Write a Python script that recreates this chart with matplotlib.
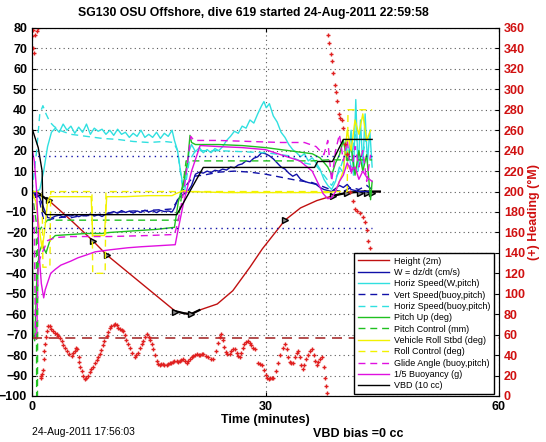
import matplotlib.pyplot as plt
import numpy as np

plt.rcParams['font.family'] = ['Liberation Sans', 'DejaVu Sans']

title = 'SG130 OSU Offshore, dive 619 started 24-Aug-2011 22:59:58'
stamp = '24-Aug-2011 17:56:03'
vbd_note = 'VBD bias =0 cc'

# height (2m units)
ht_t = [0, 0.5, 1.0, 2.2, 5, 7.8, 9.6, 12, 16, 18.4, 19.5, 20.4, 21.5, 23.8, 25.8, 28.0, 29.6,
        32.5, 34.5, 36.6, 38.7, 40.5, 42.5, 44.7]
ht_y = [0, -0.5, -1.5, -4.5, -14, -24, -31, -38.5, -51, -58.5, -59.5, -60, -58, -55, -48.5, -37,
        -28, -14, -8, -4.4, -2, -0.6, 0, 0]
gc_windows = [(0, 2.2), (18.4, 21.5), (38.7, 44.7)]
gc_t = [0.8, 2.2, 7.8, 9.6, 18.4, 20.4, 32.5, 38.7, 40.5, 42.1, 43.0, 43.7]
gc_y = [-1, -4, -24, -31, -59, -60, -14, -2, -0.6, -0.5, -0.5, -0.5]

# W = dz/dt
w_t = [0, 0.5, 1.0, 1.5, 2.0, 2.5, 3, 3.5, 4, 4.5, 5, 5.5, 6, 6.5, 7, 7.5, 8, 8.5, 9, 9.5, 10,
       10.5, 11, 11.5, 12, 12.5, 13, 13.5, 14, 14.5, 15, 15.5, 16, 16.5, 17, 17.5, 18, 18.3, 18.7,
       19.2, 20, 20.5, 21, 21.5, 22, 22.5, 23, 23.5, 24, 24.5, 25, 25.5, 26, 26.5, 27, 27.5, 28,
       28.5, 29, 29.5, 30, 30.5, 31, 31.5, 32, 32.5, 33, 33.5, 34, 34.5, 35, 35.5, 36, 36.5, 37,
       37.5, 38, 38.5, 39, 39.5, 40, 40.5, 41, 41.5, 42, 42.5, 43, 43.5]
w_y = [0, -1, -3, -8, -12.7, -13, -12, -11.5, -12.5, -11.6, -12, -11.2, -12.3, -11.5, -11.8, -11,
       -12, -11.3, -12.2, -11, -10.4, -9.8, -10.6, -9.3, -10.2, -9.6, -10.5, -9.5, -10.2, -9.1, -10,
       -9.4, -10.3, -9.2, -9.8, -9.5, -10, -8, -4, -2, 0, 3, 8.5, 9.5, 9, 10, 9.3, 10.4, 10, 11,
       10.5, 12, 11.6, 13, 13.5, 15, 14.6, 16.3, 17, 19, 18.5, 17.5, 16, 14, 12, 11, 9, 7.5, 8.5, 6,
       5, 4.4, 4, 3.5, 2, 1, 0.5, 0, 1.5, 3, 2, 3.5, 1, 0.5, 0, 0, 0, 0]

# vertical speed (buoy, pitch)
vs_t = [0, 1, 1.5, 2, 3, 4, 5, 6, 7, 8, 9, 10, 11, 12, 13, 14, 15, 16, 17, 18, 18.6, 19.3, 20,
        20.8, 22, 24, 26, 28, 30, 32, 34, 36, 37, 38, 39, 40, 41, 42, 43, 43.7]
vs_y = [0, -5, -14, -14, -13, -12.5, -12.8, -12, -11.8, -11.5, -11, -10.5, -10.2, -9.8, -9.5,
        -9.5, -9.2, -9, -8.8, -8.5, -5, 0, 4, 7.5, 8, 9.5, 10, 9.5, 8.5, 7, 5.5, 4.4, 3, 1.5, 0.5,
        0, 2, 1, 3, 1]

# horizontal speed (W, pitch)
hs_t = [0, 0.5, 1.0, 1.5, 2.0, 2.5, 3, 3.5, 4, 4.5, 5, 5.5, 6, 6.5, 7, 7.5, 8, 8.5, 9, 9.5, 10,
        10.5, 11, 11.5, 12, 12.5, 13, 13.5, 14, 14.5, 15, 15.5, 16, 16.5, 17, 17.5, 18, 18.3, 18.7,
        19.0, 19.3, 19.5, 19.8, 20.2, 20.5, 21, 21.5, 22, 22.5, 23, 23.5, 24, 24.5, 25, 25.5, 26,
        26.5, 27, 27.5, 28, 28.5, 29, 29.5, 29.8, 30.1, 30.5, 31, 31.5, 32, 32.5, 33, 33.5, 34,
        34.5, 35, 35.5, 36, 36.5, 37, 37.5, 38, 38.5, 39, 39.5, 40, 40.3, 40.6, 41, 41.3, 41.6,
        41.9, 42.2, 42.5, 42.8, 43.1, 43.4, 43.7]
hs_y = [0, 0, 1, 10, 22, 29, 31, 29, 33, 30, 32, 28.5, 31.5, 29, 33, 28, 31, 29.5, 30.5, 28, 30,
        27.5, 30.5, 28, 29, 26.5, 28.5, 27, 30, 26.5, 28, 26.5, 29, 26, 28.5, 27, 30, 25, 20, 12,
        5, 2, 8, 20, 23, 19.5, 21.5, 19, 20.5, 19, 21, 20, 22, 25, 27, 29.5, 28.5, 32, 31, 35,
        33.5, 38, 42, 44, 41, 43, 37, 34, 29, 26.5, 23, 20.5, 19, 17, 18.5, 15, 16.5, 14, 11, 6,
        3, 1, 5, 12, 9, 25, 15, 30, 8, 45, 10, 35, 12, 38, 14, 30, 12]

# horizontal speed (buoy, pitch)
hb_t = [0, 0.6, 1.0, 1.4, 1.8, 2.3, 2.8, 3.5, 5, 7, 9, 11, 13, 15, 17, 18.2, 18.7, 19.3, 19.6,
        20.2, 21, 24, 27, 30, 33, 35, 36.5, 37.5, 38.5, 39.5, 40.5, 41, 41.5, 42, 42.5, 43, 43.5]
hb_y = [0, 20, 38, 42, 38, 34, 32, 30, 28, 27, 26, 25.5, 24.5, 24, 24.5, 24, 20, 3, 0, 15, 20, 20,
        19.5, 19, 17.5, 14, 12.7, 8, 3, 10, 22, 12, 30, 15, 18, 28, 25]

# pitch up (deg)
pu_t = [0, 0.15, 0.35, 0.6, 0.9, 1.3, 1.8, 2.3, 3, 5, 7, 9, 10, 12, 14, 16, 18.3, 18.8, 19.5,
        20.0, 20.3, 20.5, 21, 24, 27, 30, 33, 36, 37, 38, 38.5, 39, 39.5, 40, 40.5, 41, 41.5, 42,
        42.5, 43, 43.5, 43.7]
pu_y = [0, -70, -73, -45, -30, -26, -30, -24, -21.5, -21, -20.5, -20.5, -20, -19.5, -19, -18.5,
        -17.5, -5, 5, 15, 27.5, 24, 23, 23, 22.5, 21.5, 20, 18.5, 16.5, 12, 8, 14, 18, 25, 15, 22,
        8, 20, 10, 18, -4, 5]

# pitch control (mm)
pc_t = [0, 0.55, 0.6, 0.7, 0.75, 1.5, 2, 18.3, 18.8, 19.8, 20.3, 36, 38, 43.7]
pc_y = [0, -15, -105, -105, -20, -16, -14, -14, -14, 15, 15, 15, 15.5, 15.5]

# vehicle roll (deg)
vr_t = [0, 0.5, 1.0, 1.3, 1.6, 2.0, 2.3, 5, 7.6, 7.8, 9.3, 9.6, 12, 15, 18, 18.5, 19.5, 20, 25,
        30, 35, 38, 39, 40, 40.5, 41, 41.5, 42, 42.5, 43, 43.5]
vr_y = [0, -5, -20, -28, -20, -5, -2.5, -2.5, -2.5, -21.5, -21.5, -2.5, -2.5, -2, -2, -1, 0.5, 0,
        -0.5, -0.5, -0.5, -0.5, 0, 10, 30, 20, 35, 28, 38, 25, 30]

# roll control (deg)
rc_t = [0, 1.3, 1.4, 2.3, 2.4, 7.7, 7.8, 9.4, 9.5, 40.5, 40.6, 43.7]
rc_y = [0, 0, -37, -37, 0, 0, -40, -40, 0, 0, 40, 40]

# glide angle (buoy, pitch)
ga_t = [0, 0.3, 0.45, 0.6, 0.8, 1.3, 2, 3, 5, 10, 15, 18.3, 18.6, 19, 19.5, 20, 20.4, 20.8, 24,
        28, 32, 35, 36.5, 37.5, 38, 38.5, 39, 39.5, 40, 40.5, 41, 41.5, 42, 42.5, 43, 43.5]
ga_y = [0, -20, -72, -72, -35, -30, -24, -22.5, -22, -22, -21.5, -21, -17, -10, 0, 15, 27, 25, 25,
        24.5, 24, 24, 22, 18, 25, 5, 20, 28, 15, 25, 8, 22, 12, 20, 5, 18]

# 1/5 buoyancy (g)
bu_t = [0, 0.3, 0.6, 0.9, 1.2, 1.5, 1.7, 2.4, 3, 3.7, 5, 5.9, 7, 8.1, 10, 12.3, 14, 16.2, 18.4,
        18.7, 19.5, 20.5, 21.6, 24, 27, 30, 32.3, 34.4, 36, 37.4, 38, 38.5, 39, 39.5, 40, 40.5,
        41, 41.5, 42, 42.5, 43, 43.7]
bu_y = [21, 15, 0, -30, -45, -52, -48, -40, -38, -36, -34, -32.4, -31, -29.5, -28.5, -27.5,
        -27, -26.5, -26, -20, -5, 10, 22.5, 22, 21.5, 20.5, 17.6, 15, 10, -1, -3.5, -3, 0, 5, 8,
        14, 10, 12, 6, 10, 7, 5]

# VBD (10 cc)
vbd_t = [0, 0.8, 1.3, 1.4, 1.8, 5, 10, 18.6, 22.0, 30, 36.3, 36.7, 38.6, 40.0, 43.7]
vbd_y = [31, 21.5, 10, -9.5, -11.3, -11.3, -11.3, -11.3, 11.8, 11.8, 11.8, 14.7, 14.7, 25.5, 25.5]

# desired glide limits and target heading
glide_lim = 17.6
glide_end = 43.7
target_heading = 57

# heading (deg M)
hd_t = [0.05, 0.1, 0.13, 0.2, 0.4, 0.6, 0.8,
        1.16, 1.22, 1.3, 1.4, 1.5, 1.6, 1.7, 1.8, 1.95, 2.05, 2.3,
        2.5, 2.75, 3.0, 3.2, 3.4, 3.6, 3.8, 4.0, 4.2, 4.5, 4.8, 5.1,
        5.3, 5.5, 5.7, 5.8, 6.0, 6.1, 6.2, 6.4, 6.6, 6.8, 7.0, 7.2,
        7.4, 7.6, 7.8, 8.1, 8.3, 8.5, 8.7, 8.9, 9.1, 9.3, 9.6, 9.8, 10.0, 10.2, 10.5, 10.7, 10.9,
        11.1, 11.3, 11.5, 11.7, 11.9, 12.1, 12.3, 12.6, 12.9, 13.2, 13.4, 13.6, 13.9, 14.1, 14.3,
        14.5, 14.8, 15.0, 15.2, 15.4, 15.6, 15.8, 16.0, 16.2, 16.4, 16.6, 16.8, 17.0, 17.3, 17.5,
        17.7, 17.9, 18.1, 18.3, 18.6, 18.8, 19.0, 19.2, 19.4, 19.6, 19.9, 20.1, 20.3, 20.5, 20.7,
        20.9, 21.2, 21.4, 21.6, 21.8, 22.0, 22.3, 22.6, 23.0, 23.3, 23.6, 23.9, 24.1, 24.3, 24.5,
        24.7, 24.9, 25.1, 25.4, 25.6, 25.8, 26.1, 26.3, 26.5, 26.7, 26.9, 27.1, 27.3, 27.5, 27.8,
        28.0, 28.2, 28.4, 28.7, 29.0, 29.3, 29.6, 29.8, 30.0, 30.2, 30.4, 30.6, 30.8, 31.0, 31.3,
        31.6, 31.9, 32.2, 32.5, 32.7, 32.9, 33.1, 33.3, 33.5, 33.8, 34.0, 34.2, 34.4, 34.6, 34.8,
        35.0, 35.2, 35.4, 35.7, 36.0, 36.2, 36.4, 36.6, 36.8, 37.0, 37.3, 37.5, 37.6, 37.8, 37.9,
        38.0, 38.2, 38.4, 38.5, 38.7, 38.9, 39.0, 39.2, 39.4, 39.6, 39.8, 40.0, 40.2, 40.5,
        40.9, 41.2, 41.5, 41.8, 42.1, 42.5, 42.8, 43.0, 43.2, 43.4]
hd_y = [352, 358, 340, 336, 353, 357, 360,
        18, 20, 22, 25, 36, 44, 51, 58, 64, 68, 68,
        66, 64, 62, 61, 59, 57, 54, 50, 47, 44, 41, 39,
        42, 44, 47, 46, 38, 33, 28, 24, 20, 17, 18, 20,
        23, 26, 28, 32, 35, 38, 41, 45, 50, 54, 59, 63, 67, 68, 69, 70, 69,
        67, 66, 65, 64, 60, 55, 51, 47, 42, 38, 40, 42, 47, 51, 54,
        58, 61, 58, 55, 51, 46, 40, 34, 31, 30, 31, 31, 30, 30, 31,
        32, 32, 33, 34, 34, 33, 34, 35, 36, 34, 32, 34, 36, 38, 39,
        40, 41, 40, 40, 41, 41, 39, 38, 36, 36, 44, 52, 58, 61, 55,
        48, 43, 41, 41, 44, 46, 46, 42, 39, 38, 42, 47, 51, 53, 54,
        52, 50, 47, 46, 32, 31, 30, 25, 21, 18, 17, 18, 18, 18, 24,
        32, 40, 47, 51, 46, 38, 33, 32, 32, 38, 42, 44, 38, 30, 26,
        30, 36, 40, 44, 46, 40, 34, 30, 33, 36, 38, 28, 18, 10, 3,
        353, 345, 335, 328, 316, 304, 297, 289, 276, 272, 270, 262, 247, 237,
        200, 191, 183, 181, 179, 175, 170, 162, 152, 145]

c_height = '#c01010'
c_w = '#1010a8'
c_cyan = '#30e0e0'
c_green = '#20c020'
c_yellow = '#f2f200'
c_mag = '#e010e0'
c_red = '#d01010'
dash = (5, 3.5)

fig = plt.figure(figsize=(5.46, 4.42), dpi=100)
ax = fig.add_axes([32 / 546, 46 / 442, 467 / 546, 368 / 442])

ax.plot(ht_t, ht_y, color=c_height, lw=1.0, label='Height (2m)')
ht_t_a = np.array(ht_t)
ht_y_a = np.array(ht_y)
for t0, t1 in gc_windows:
    m = (ht_t_a >= t0) & (ht_t_a <= t1)
    ax.plot(ht_t_a[m], ht_y_a[m], color='k', lw=1.6)
ax.plot(gc_t, gc_y, ls='none', marker='>', ms=5, mfc='0.55', mec='k', mew=1.0)
ax.plot(w_t, w_y, color=c_w, lw=1.0, label='W = dz/dt (cm/s)')
ax.plot(hs_t, hs_y, color=c_cyan, lw=1.0, label='Horiz Speed(W,pitch)')
ax.plot(vs_t, vs_y, color=c_w, lw=1.0, dashes=dash, label='Vert Speed(buoy,pitch)')
ax.plot(hb_t, hb_y, color=c_cyan, lw=1.0, dashes=dash, label='Horiz Speed(buoy,pitch)')
ax.plot(pu_t, pu_y, color=c_green, lw=1.0, label='Pitch Up (deg)')
ax.plot(pc_t, pc_y, color=c_green, lw=1.0, dashes=dash, label='Pitch Control (mm)')
ax.plot(vr_t, vr_y, color=c_yellow, lw=1.0, label='Vehicle Roll Stbd (deg)')
ax.plot(rc_t, rc_y, color=c_yellow, lw=1.0, dashes=dash, label='Roll Control (deg)')
ax.plot(ga_t, ga_y, color=c_mag, lw=1.0, dashes=dash, label='Glide Angle (buoy,pitch)')
ax.plot(bu_t, bu_y, color=c_mag, lw=1.0, label='1/5 Buoyancy (g)')
ax.plot(vbd_t, vbd_y, color='k', lw=1.0, label='VBD (10 cc)')
for s in (1, -1):
    ax.plot([0, glide_end], [s * glide_lim, s * glide_lim], color=c_w, lw=1.0, ls=(0, (1, 3)))

ax.set_xlim(0, 60)
ax.set_ylim(-100, 80)
ax.set_xticks([0, 30, 60])
ax.set_yticks(np.arange(-100, 81, 10))
ax.grid(True, color='0.35', ls=(0, (1, 3)), lw=0.8)
ax.tick_params(labelsize=9, direction='in', length=3, top=True)
for lab in ax.get_xticklabels() + ax.get_yticklabels():
    lab.set_fontweight('bold')
ax.set_xlabel('Time (minutes)', fontsize=9, fontweight='bold', labelpad=1)
fig.text(253 / 546, 1 - 13 / 442, title, fontsize=8.8, fontweight='bold',
         ha='center', va='center')

ax2 = ax.twinx()
ax2.axhline(target_heading, color='#a83030', lw=1.2, dashes=(6, 4))
ax2.plot(hd_t, hd_y, ls='none', marker='+', ms=3.5, mew=1.0, color='#e02020')
ax2.set_ylim(0, 360)
ax2.set_yticks(np.arange(0, 361, 20))
ax2.tick_params(labelsize=9, direction='in', length=3, colors=c_red)
ax2.tick_params(axis='y', color='k')
for lab in ax2.get_yticklabels():
    lab.set_fontweight('bold')
ax2.set_ylabel('(+) Heading (\u00b0M)', color=c_red, fontsize=9, fontweight='bold',
               labelpad=2)

handles, labels = ax.get_legend_handles_labels()
leg = ax2.legend(handles, labels, loc='lower right', fontsize=6.5, labelspacing=0.26,
                 handlelength=3.5, handletextpad=0.5, borderpad=0.4, fancybox=False,
                 framealpha=1, edgecolor='k', borderaxespad=0,
                 bbox_to_anchor=((494 - 32) / 467, 2 / 368))
leg.get_frame().set_linewidth(1.0)

fig.text(32 / 546, 1 - 432 / 442, stamp, fontsize=7.5, va='center')
fig.text(313 / 546, 1 - 434 / 442, vbd_note, fontsize=9, fontweight='bold', va='center')

fig.savefig('out.png', dpi=100)
